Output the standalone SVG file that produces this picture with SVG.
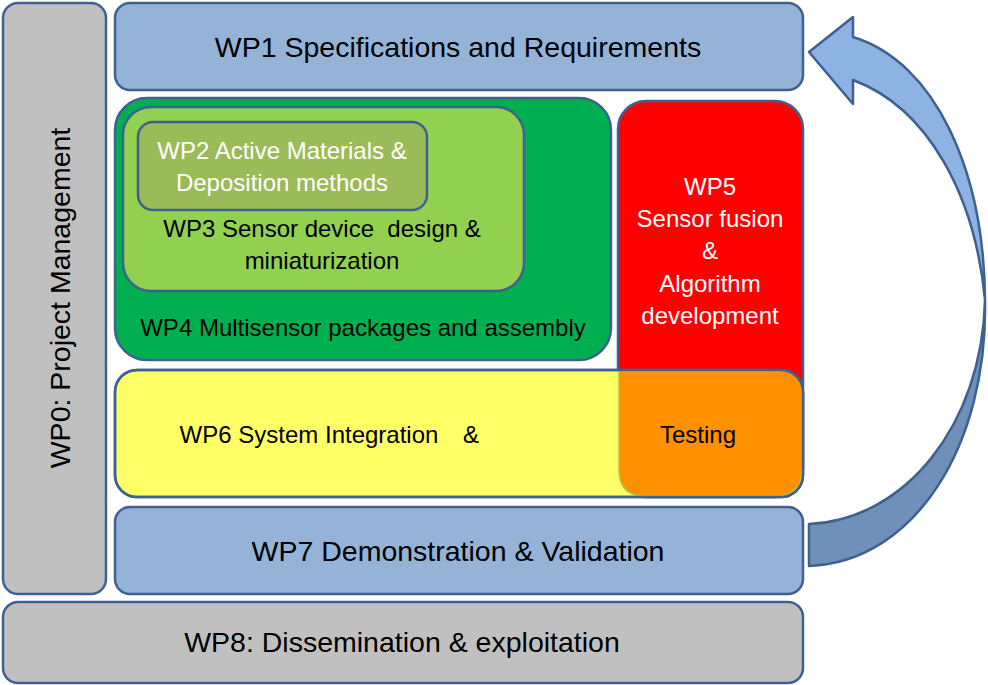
<svg xmlns="http://www.w3.org/2000/svg" width="988" height="685" viewBox="0 0 988 685">
<style>
.box{stroke:#3e6190;stroke-width:2.5}
.t{font-family:"Liberation Sans",Arial,sans-serif;text-anchor:middle}
.big{font-size:28.5px;fill:#000}
.sm{font-size:24px;fill:#000}
.w{fill:#fff}
</style>
<rect width="988" height="685" fill="#fff"/>
<g id="wp0">
<rect class="box" x="3" y="3" width="103" height="591" rx="15" fill="#c0c0c0"/>
<text class="t big" transform="translate(70,298) rotate(-90)">WP0: Project Management</text>
</g>
<g id="wp1">
<rect class="box" x="115" y="3" width="688" height="87" rx="15" fill="#95b3d7"/>
<text class="t big" x="458" y="57">WP1 Specifications and Requirements</text>
</g>
<g id="wp4">
<rect class="box" x="115" y="98" width="496" height="262" rx="32" fill="#00b050"/>
<text class="t sm" x="363" y="336">WP4 Multisensor packages and assembly</text>
</g>
<g id="wp3">
<rect class="box" x="123" y="107" width="401" height="184" rx="28" fill="#92d050"/>
<text class="t sm" x="322" y="237" xml:space="preserve" style="white-space:pre">WP3 Sensor device  design &amp;</text>
<text class="t sm" x="322" y="269">miniaturization</text>
</g>
<g id="wp2">
<rect class="box" x="138" y="122" width="289" height="88" rx="15" fill="#9bbb59"/>
<text class="t sm w" x="282" y="159">WP2 Active Materials &amp;</text>
<text class="t sm w" x="282" y="191">Deposition methods</text>
</g>
<g id="wp5">
<rect class="box" x="618" y="101" width="185" height="396" rx="28" fill="#ff0000"/>
<text class="t sm w" x="710" y="195">WP5</text>
<text class="t sm w" x="710" y="227">Sensor fusion</text>
<text class="t sm w" x="710" y="259">&amp;</text>
<text class="t sm w" x="710" y="292">Algorithm</text>
<text class="t sm w" x="710" y="324">development</text>
</g>
<g id="wp6">
<rect class="box" x="115" y="370" width="688" height="127" rx="22" fill="#ffff66"/>
<path d="M619,371 L781,371 Q802,371 802,392 L802,470 Q802,496 776,496 L645,496 Q619,496 619,470 Z" fill="#ff9100" stroke="#b3c24f" stroke-width="1.5"/>
<rect class="box" x="115" y="370" width="688" height="127" rx="22" fill="none"/>
<text class="t sm" x="309" y="443">WP6 System Integration</text>
<text class="t sm" x="471" y="443">&amp;</text>
<text class="t sm" x="698" y="443">Testing</text>
</g>
<g id="wp7">
<rect class="box" x="115" y="507" width="688" height="87" rx="15" fill="#95b3d7"/>
<text class="t big" x="458" y="561">WP7 Demonstration &amp; Validation</text>
</g>
<g id="wp8">
<rect class="box" x="3" y="602" width="800" height="81" rx="15" fill="#c0c0c0"/>
<text class="t big" x="402" y="652">WP8: Dissemination &amp; exploitation</text>
</g>
<g id="connectors">
<path d="M809,524 C905,520 982,425 985,300 C988,445 915,562 809,566 Z" fill="#6f90b8" stroke="#3e6190" stroke-width="2.5" stroke-linejoin="round"/>
<path d="M809,52 L853,17 L853,37 C935,62 984,170 985,300 C975,195 928,108 853,80 L853,104 Z" fill="#8db3e2" stroke="#3e6190" stroke-width="2.5" stroke-linejoin="round"/>
</g>
</svg>
